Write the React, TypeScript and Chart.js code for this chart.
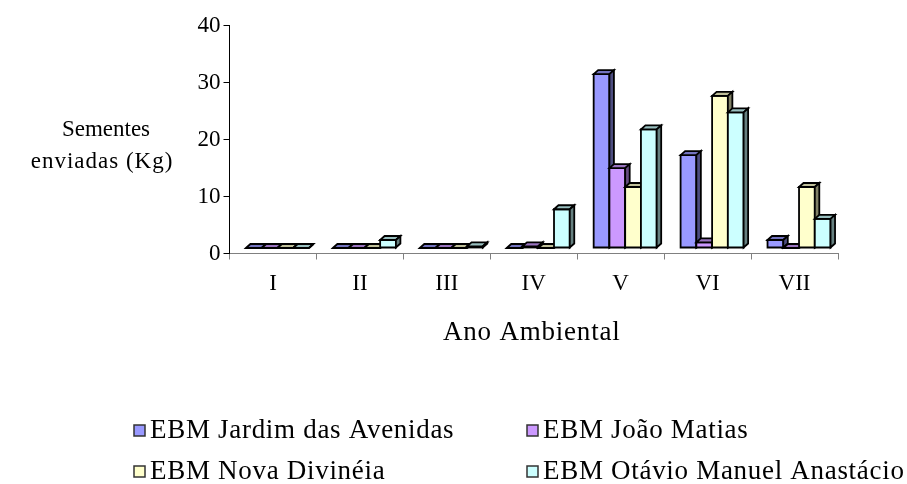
import { useEffect, useRef } from "react";
import { Chart, registerables } from "chart.js";

Chart.register(...registerables);

// Anos ambientais (categorias do eixo X)
const anos = ["I", "II", "III", "IV", "V", "VI", "VII"];

// Escolas (séries)
const escolas = [
  "EBM Jardim das Avenidas",
  "EBM João Matias",
  "EBM Nova Divinéia",
  "EBM Otávio Manuel Anastácio",
];

// Sementes enviadas (Kg) por escola e por ano
const jardimDasAvenidas = [0, 0, 0, 0, 30.5, 16.3, 1.4];
const joaoMatias = [0, 0, 0, 0.3, 14, 1, 0];
const novaDivineia = [0, 0, 0, 0, 10.7, 26.7, 10.7];
const otavioManuelAnastacio = [0, 1.4, 0.3, 6.8, 20.8, 23.8, 5.1];

// Marcas do eixo de valores
const valorTicks = [0, 10, 20, 30, 40];

const FONT = '"Liberation Serif", "Times New Roman", serif';
const TICK_SIZE = 23;

// Cores de cada série: face frontal, topo e lateral
const faces = [
  { front: "#9999FF", top: "#7373BF", side: "#4D4D80" },
  { front: "#CC99FF", top: "#9973BF", side: "#664D80" },
  { front: "#FFFFCC", top: "#BFBF99", side: "#808066" },
  { front: "#CCFFFF", top: "#99BFBF", side: "#668080" },
];

// Deslocamento das colunas (meio da profundidade) e profundidade de cada coluna
const SHIFT_X = 4.5;
const SHIFT_Y = -5.5;
const DEPTH_X = 4.5;
const DEPTH_Y = -4;

const bars3d = {
  id: "bars3d",
  beforeDatasetsDraw(chart: any) {
    const ctx: CanvasRenderingContext2D = chart.ctx;
    ctx.save();
    ctx.translate(SHIFT_X, SHIFT_Y);
    ctx.lineWidth = 1.8;
    ctx.strokeStyle = "#000";
    ctx.lineJoin = "miter";
    chart.data.datasets.forEach((_ds: any, di: number) => {
      const meta = chart.getDatasetMeta(di);
      const f = faces[di];
      meta.data.forEach((el: any) => {
        const { x, y, base, width } = el.getProps(["x", "y", "base", "width"], true);
        const x0 = x - width / 2;
        const x1 = x + width / 2;
        // face frontal
        ctx.beginPath();
        ctx.rect(x0, y, width, base - y);
        ctx.fillStyle = f.front;
        ctx.fill();
        ctx.stroke();
        // topo
        ctx.beginPath();
        ctx.moveTo(x0, y);
        ctx.lineTo(x0 + DEPTH_X, y + DEPTH_Y);
        ctx.lineTo(x1 + DEPTH_X, y + DEPTH_Y);
        ctx.lineTo(x1, y);
        ctx.closePath();
        ctx.fillStyle = f.top;
        ctx.fill();
        ctx.stroke();
        // lateral
        ctx.beginPath();
        ctx.moveTo(x1, y);
        ctx.lineTo(x1 + DEPTH_X, y + DEPTH_Y);
        ctx.lineTo(x1 + DEPTH_X, base + DEPTH_Y);
        ctx.lineTo(x1, base);
        ctx.closePath();
        ctx.fillStyle = f.side;
        ctx.fill();
        ctx.stroke();
      });
    });
    ctx.restore();
    return false;
  },
};

// Títulos dos eixos e legenda em duas colunas
const textos = {
  id: "textos",
  afterDraw(chart: any) {
    const ctx: any = chart.ctx;
    const area = chart.chartArea;
    ctx.save();
    ctx.fillStyle = "#000";
    ctx.textBaseline = "middle";
    ctx.textAlign = "center";
    // título do eixo Y
    ctx.font = `23px ${FONT}`;
    ctx.letterSpacing = "0px";
    ctx.fillText("Sementes", 106, 130);
    ctx.letterSpacing = "1px";
    ctx.fillText("enviadas (Kg)", 102, 162);
    // título do eixo X
    ctx.font = `27px ${FONT}`;
    ctx.letterSpacing = "0.8px";
    ctx.fillText("Ano Ambiental", (area.left + area.right) / 2 - 2, 333);
    // legenda
    ctx.letterSpacing = "0.7px";
    ctx.textAlign = "left";
    const cols = [134, 527];
    const rows = [431, 472];
    escolas.forEach((nome, i) => {
      const cx = cols[i % 2];
      const cy = rows[Math.floor(i / 2)];
      ctx.fillStyle = faces[i].front;
      ctx.fillRect(cx, cy - 6, 11, 11);
      ctx.lineWidth = 1.5;
      ctx.strokeStyle = "#333";
      ctx.strokeRect(cx, cy - 6, 11, 11);
      ctx.fillStyle = "#000";
      ctx.fillText(nome, cx + 16, cy);
    });
    ctx.restore();
  },
};

export default function App() {
  const ref = useRef<HTMLCanvasElement | null>(null);

  useEffect(() => {
    if (!ref.current) return;
    const chart = new Chart(ref.current, {
      type: "bar",
      data: {
        labels: anos,
        datasets: [
          { label: escolas[0], data: jardimDasAvenidas, backgroundColor: faces[0].front },
          { label: escolas[1], data: joaoMatias, backgroundColor: faces[1].front },
          { label: escolas[2], data: novaDivineia, backgroundColor: faces[2].front },
          { label: escolas[3], data: otavioManuelAnastacio, backgroundColor: faces[3].front },
        ],
      },
      options: {
        responsive: false,
        animation: false,
        devicePixelRatio: 1,
        layout: { padding: { top: 25.5, right: 69, left: 0, bottom: 0 } },
        datasets: { bar: { barPercentage: 1, categoryPercentage: 0.725 } },
        plugins: { legend: { display: false }, tooltip: { enabled: false } },
        scales: {
          x: {
            offset: true,
            grid: {
              offset: true,
              drawOnChartArea: false,
              drawTicks: true,
              tickLength: 6,
              color: "#808080",
            },
            border: { display: true, color: "#808080", width: 1 },
            ticks: {
              font: { family: FONT, size: TICK_SIZE },
              color: "#000",
              padding: 11,
              maxRotation: 0,
              autoSkip: false,
            },
            afterFit: (s: any) => {
              s.height = 484 - 253.5;
            },
          },
          y: {
            min: 0,
            max: 40,
            afterBuildTicks: (s: any) => {
              s.ticks = valorTicks.map((v) => ({ value: v }));
            },
            grid: { drawOnChartArea: false, drawTicks: true, tickLength: 6, color: "#000" },
            border: { display: true, color: "#000", width: 1 },
            ticks: { font: { family: FONT, size: TICK_SIZE }, color: "#000", padding: 3 },
            afterFit: (s: any) => {
              s.width = 229.5;
            },
          },
        },
      },
      plugins: [bars3d, textos],
    });
    return () => chart.destroy();
  }, []);

  return (
    <div style={{ position: "absolute", left: 0, top: 0, width: 907, height: 484, background: "#fff" }}>
      <canvas ref={ref} width={907} height={484} />
    </div>
  );
}
